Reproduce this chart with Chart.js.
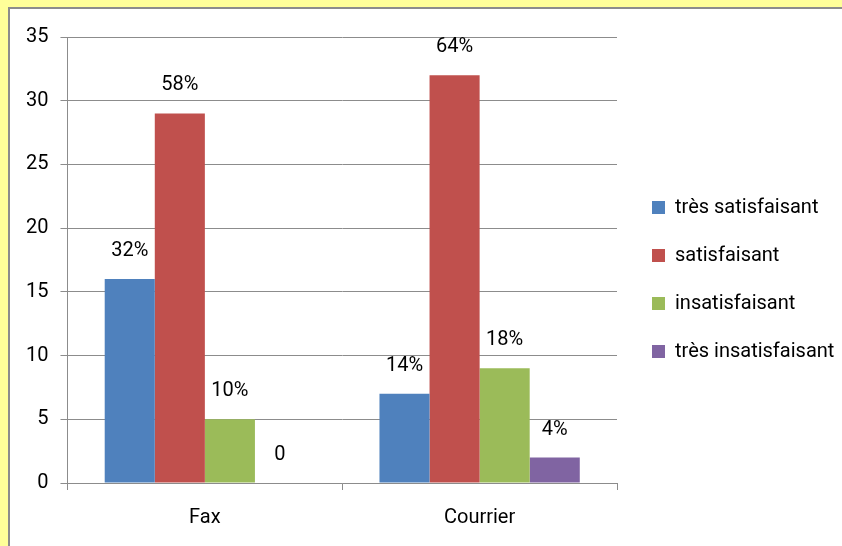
<!DOCTYPE html>
<html>
<head>
<meta charset="utf-8">
<script src="https://cdn.jsdelivr.net/npm/chart.js@4/dist/chart.umd.min.js"></script>
<style>
    html, body {
        margin: 0;
        padding: 0;
        background: #ffff99;
        width: 842px;
        height: 546px;
        overflow: hidden;
    }
    #cadre {
        position: absolute;
        left: 8px;
        top: 7px;
        width: 840px;
        height: 545px;
        background: #ffffff;
        border: 2px solid #8c8c8c;
    }
    #contenedor {
        position: absolute;
        left: 0;
        top: 0;
        width: 833px;
        height: 537px;
    }
</style>
</head>
<body>
<div id="cadre">
    <div id="contenedor"><canvas id="grafica"></canvas></div>
</div>
<script>
const categorias = ["Fax", "Courrier"];
const series = ["très satisfaisant", "satisfaisant", "insatisfaisant", "très insatisfaisant"];
const tresSatisfaisant = [16, 7];
const satisfaisant = [29, 32];
const insatisfaisant = [5, 9];
const tresInsatisfaisant = [0, 2];
const etiquetas = [
    ["32%", "14%"],
    ["58%", "64%"],
    ["10%", "18%"],
    ["0", "4%"]
];
const colores = ["#4f81bd", "#c0504d", "#9bbb59", "#8064a2"];
const ticksY = [0, 5, 10, 15, 20, 25, 30, 35];

const fuente = "Roboto, 'Open Sans', sans-serif";
const tamano = 20;

const etiquetasBarras = {
    id: "etiquetasBarras",
    afterDatasetsDraw(chart) {
        const ctx = chart.ctx;
        ctx.save();
        ctx.font = tamano + "px " + fuente;
        ctx.fillStyle = "#000000";
        ctx.textAlign = "center";
        ctx.textBaseline = "middle";
        chart.data.datasets.forEach((dataset, i) => {
            const meta = chart.getDatasetMeta(i);
            meta.data.forEach((barra, j) => {
                ctx.fillText(etiquetas[i][j], barra.x, barra.y - 28);
            });
        });
        ctx.restore();
    }
};

// desplaza la leyenda un poco, como en el original
const moverLeyenda = {
    id: "moverLeyenda",
    afterLayout(chart) {
        const leyenda = chart.legend;
        const dx = 7;
        const dy = -12;
        leyenda.left += dx;
        leyenda.right += dx + 30;
        leyenda.top += dy;
        leyenda.bottom += dy;
    }
};

const valores = [tresSatisfaisant, satisfaisant, insatisfaisant, tresInsatisfaisant];

new Chart(document.getElementById("grafica"), {
    type: "bar",
    data: {
        labels: categorias,
        datasets: series.map((nombre, i) => ({
            label: nombre,
            data: valores[i],
            backgroundColor: colores[i],
            categoryPercentage: 0.729,
            barPercentage: 1
        }))
    },
    plugins: [etiquetasBarras, moverLeyenda],
    options: {
        responsive: true,
        maintainAspectRatio: false,
        animation: false,
        layout: {
            padding: { top: 28, right: 25, bottom: 0, left: 4 }
        },
        plugins: {
            tooltip: { enabled: false },
            legend: {
                position: "right",
                labels: {
                    color: "#000000",
                    font: { family: fuente, size: tamano },
                    boxWidth: 13,
                    boxHeight: 13,
                    padding: 28
                }
            }
        },
        scales: {
            x: {
                grid: {
                    drawOnChartArea: false,
                    drawTicks: true,
                    tickLength: 7,
                    color: "#8c8c8c"
                },
                border: { color: "#8c8c8c", width: 1 },
                ticks: {
                    color: "#000000",
                    font: { family: fuente, size: tamano },
                    padding: 16
                }
            },
            y: {
                min: 0,
                max: 35,
                afterBuildTicks: (eje) => {
                    eje.ticks = ticksY.map((v) => ({ value: v }));
                },
                grid: {
                    color: "#8c8c8c",
                    tickLength: 7
                },
                border: { color: "#8c8c8c", width: 1 },
                ticks: {
                    color: "#000000",
                    font: { family: fuente, size: tamano },
                    padding: 12
                }
            }
        }
    }
});
</script>
</body>
</html>
